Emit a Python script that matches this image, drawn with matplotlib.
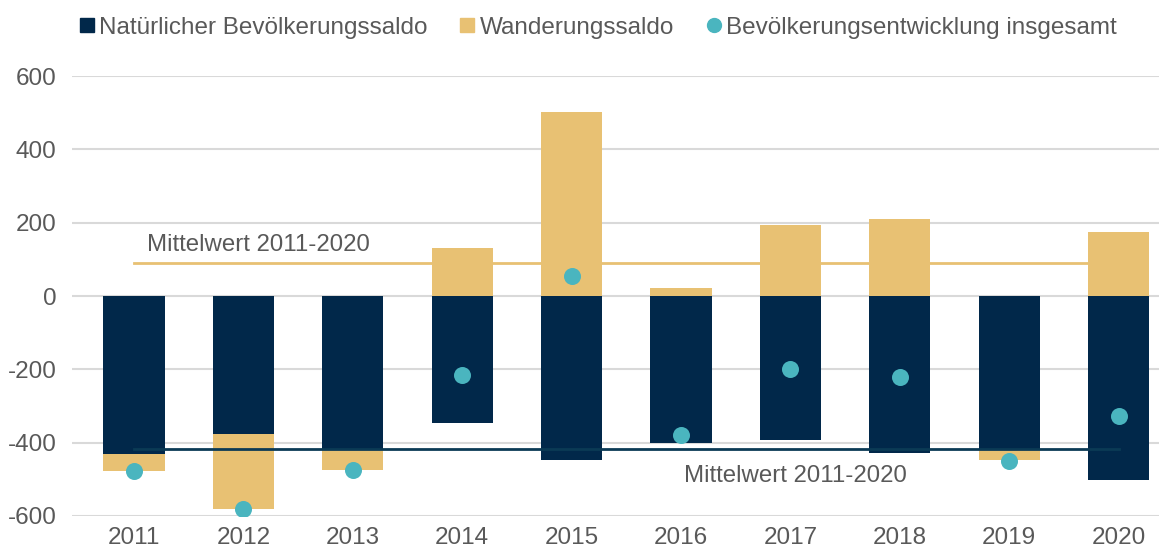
import matplotlib.pyplot as plt
import numpy as np
from matplotlib.lines import Line2D

plt.rcParams['font.family'] = ['Liberation Sans', 'DejaVu Sans']
plt.rcParams['axes.unicode_minus'] = False

jahre = ["2011", "2012", "2013", "2014", "2015", "2016", "2017", "2018", "2019", "2020"]
natuerlich = [-431, -376, -420, -346, -447, -401, -393, -428, -417, -502]
wanderung = [-45, -205, -55, 131, 502, 22, 194, 210, -30, 175]
gesamt = [-477, -581, -475, -215, 55, -379, -199, -220, -449, -327]

navy = "#01284A"
gelb = "#E8C173"
tuerkis = "#4AB5BF"
grau = "#595959"

nat = np.array(natuerlich)
wan = np.array(wanderung)
x = np.arange(len(jahre))
unten = np.where(wan < 0, nat, 0)

fig = plt.figure(figsize=(11.59, 5.54), dpi=100)
ax = fig.add_axes([0.0621, 0.0686, 0.9379, 0.7942])

ax.bar(x, nat, width=0.56, color=navy, zorder=2)
ax.bar(x, wan, width=0.56, bottom=unten, color=gelb, zorder=2)

# Mittelwerte
mw_wan = wan.mean()
mw_nat = nat.mean()
ax.plot([x[0], x[-1]], [mw_wan, mw_wan], color=gelb, lw=2, zorder=1.5)
ax.plot([x[0], x[-1]], [mw_nat, mw_nat], color="#0B3A55", lw=2, zorder=3)
ax.text(0.12, mw_wan + 20, "Mittelwert 2011-2020", color=grau, fontsize=17.3, va="bottom")
ax.text(5.03, mw_nat - 45, "Mittelwert 2011-2020", color=grau, fontsize=17.3, va="top")

ax.scatter(x, gesamt, s=150, color=tuerkis, zorder=4, linewidths=0)

ax.set_ylim(-600, 600)
ax.set_xlim(-0.567, 9.37)
ax.set_yticks([-600, -400, -200, 0, 200, 400, 600])
ax.set_xticks(x)
ax.set_xticklabels(jahre)
ax.tick_params(axis="both", length=0, labelsize=17.5, labelcolor=grau)
ax.tick_params(axis="x", pad=8)
ax.tick_params(axis="y", pad=11)
ax.grid(axis="y", color="#D9D9D9", lw=1.5, zorder=0)
for s in ax.spines.values():
    s.set_visible(False)

griffe = [
    Line2D([], [], marker="s", ls="", color=navy, markersize=9.5),
    Line2D([], [], marker="s", ls="", color=gelb, markersize=9.5),
    Line2D([], [], marker="o", ls="", color=tuerkis, markersize=10),
]
namen = ["Natürlicher Bevölkerungssaldo", "Wanderungssaldo", "Bevölkerungsentwicklung insgesamt"]
leg = fig.legend(griffe, namen, loc="center", bbox_to_anchor=(0.516, 0.950), ncol=3,
                 frameon=False, fontsize=17.5, handlelength=0.6, handletextpad=0.2,
                 columnspacing=1.35)
for t in leg.get_texts():
    t.set_color(grau)

plt.savefig("out.png", dpi=100)
